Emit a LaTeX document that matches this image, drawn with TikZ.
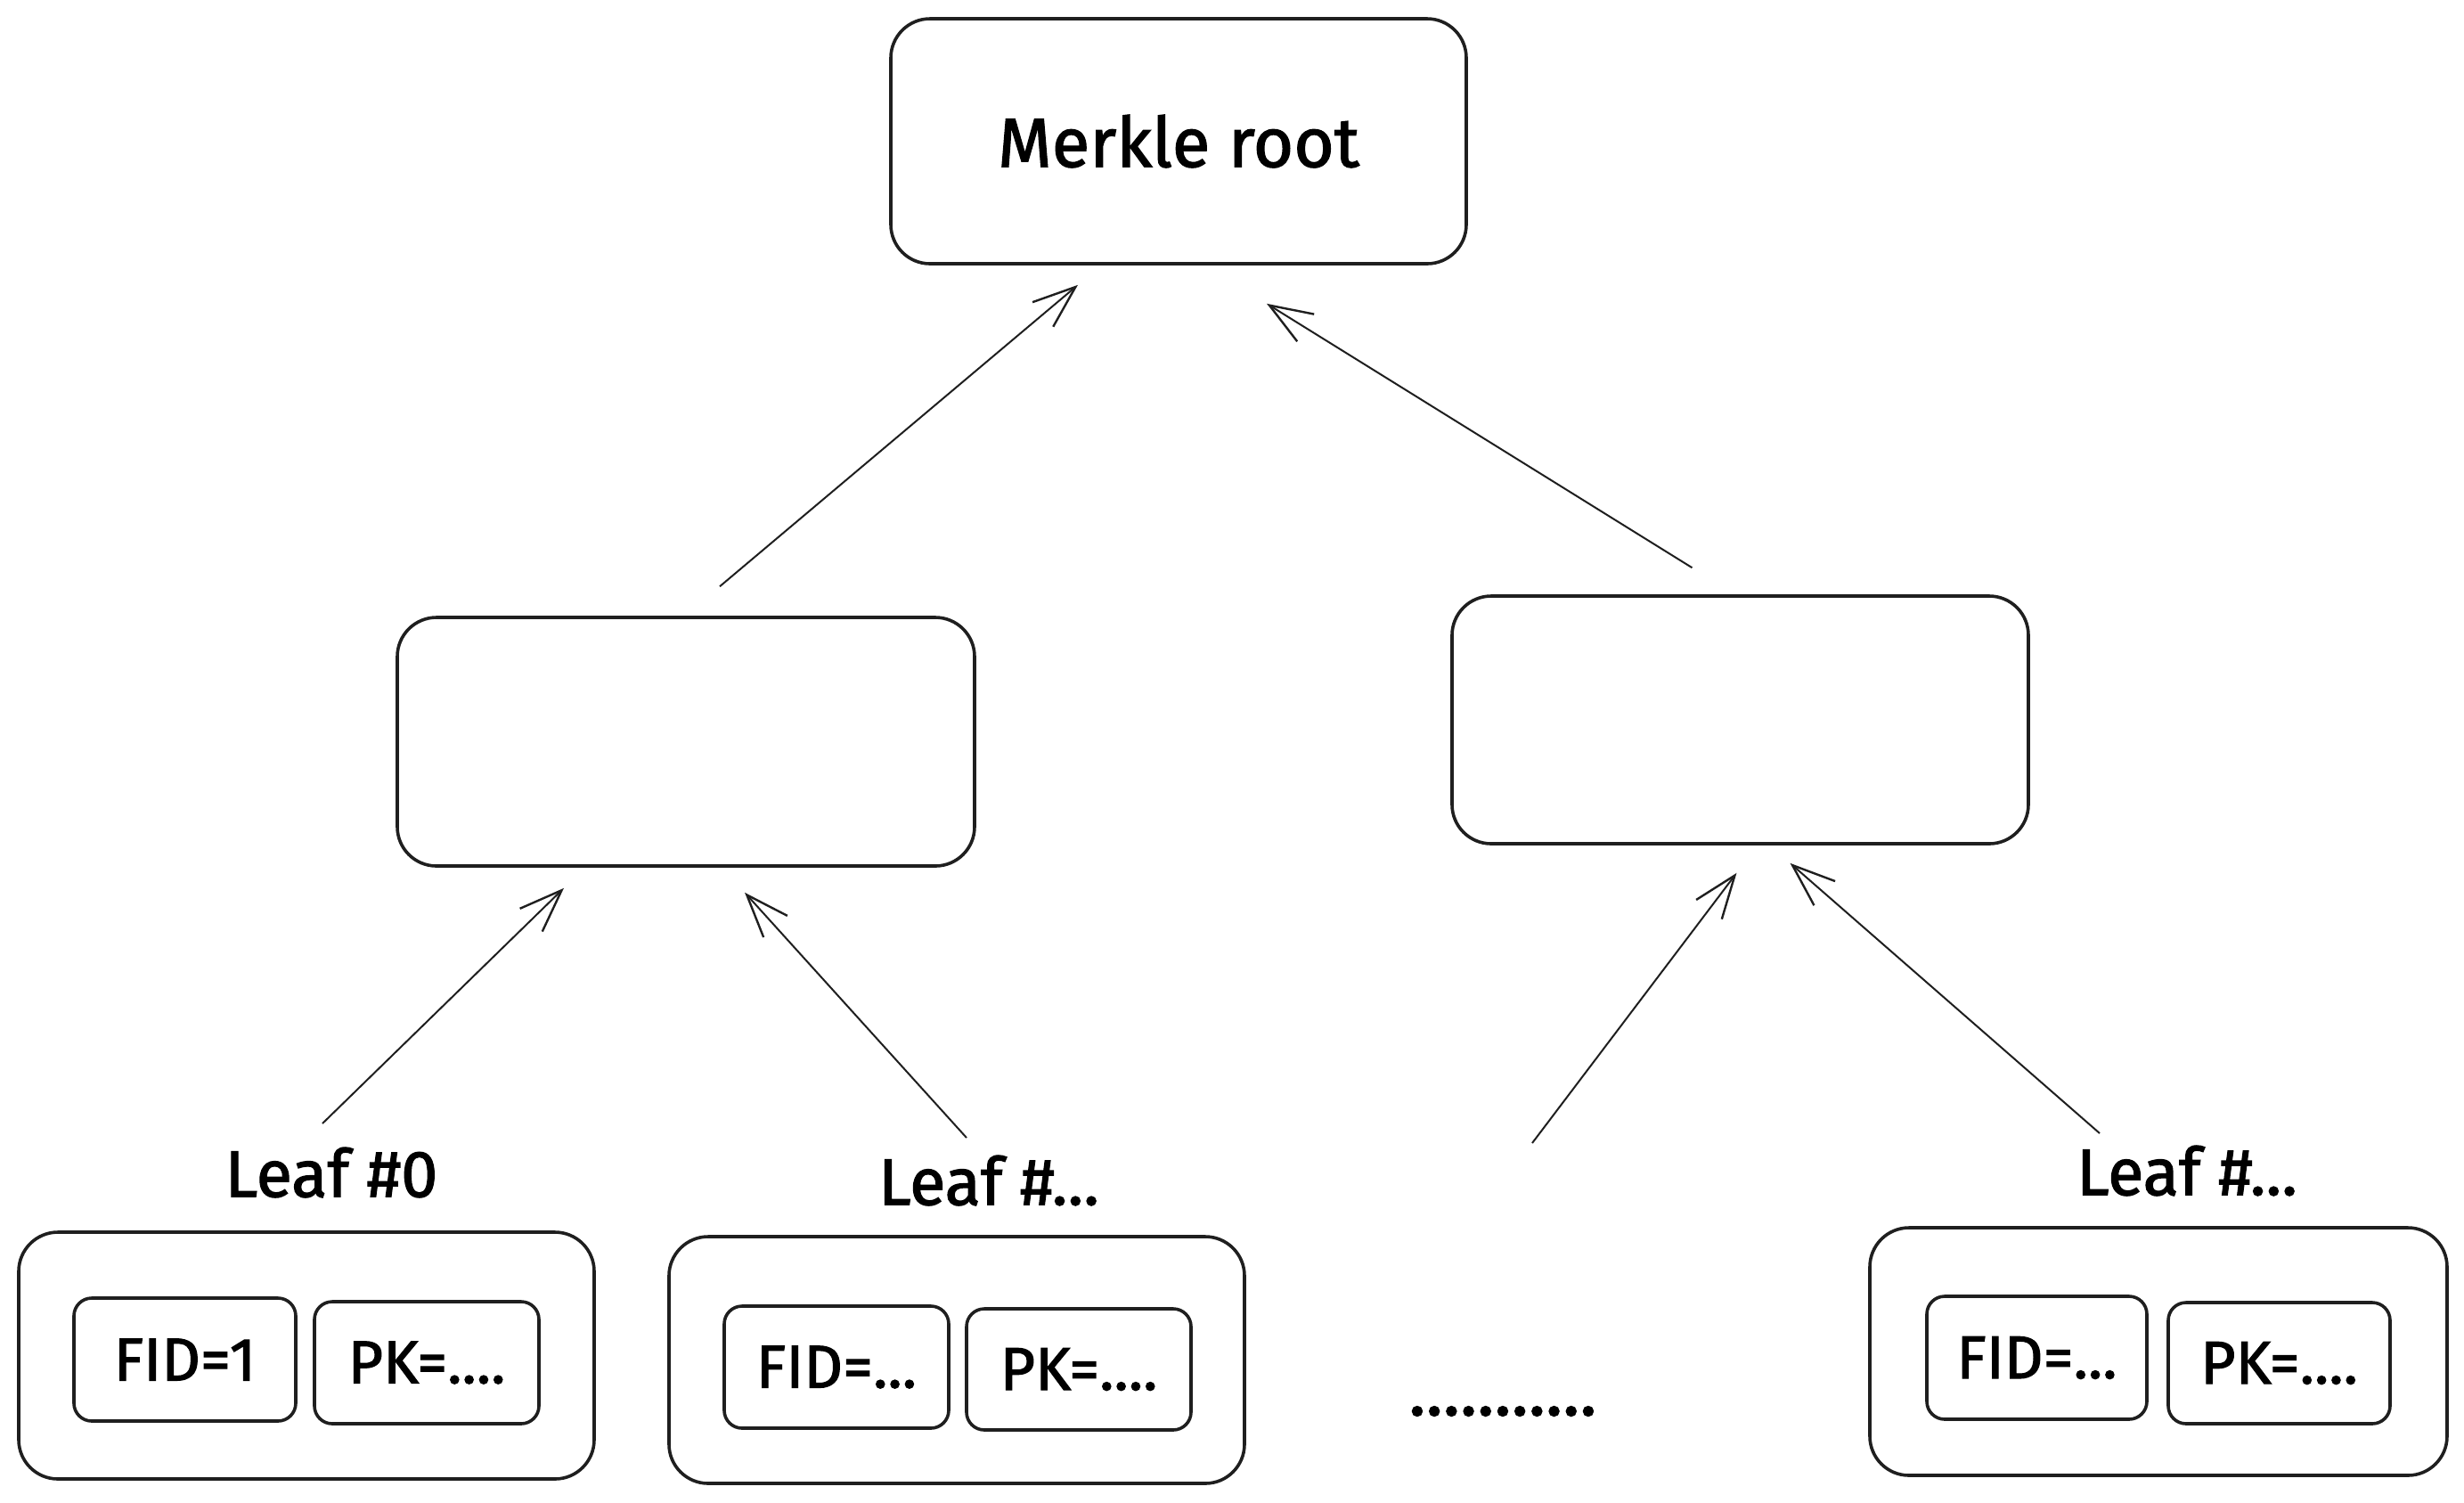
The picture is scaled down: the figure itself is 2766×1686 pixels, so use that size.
\documentclass[tikz,border=0pt]{standalone}
\usepackage{fontspec}
\setmainfont{Fira Sans}[BoldFont={Fira Sans},BoldFeatures={FakeBold=1.6}]
\usetikzlibrary{arrows.meta,calc}
\begin{document}
\begin{tikzpicture}[x=0.25pt,y=-0.25pt,
  box/.style={draw=black!88,line width=0.9pt,rounded corners=11pt,inner sep=0pt},
  inbox/.style={draw=black!88,line width=0.9pt,rounded corners=5pt,inner sep=0pt,font=\fontsize{17}{19}\selectfont\bfseries},
  lbl/.style={font=\fontsize{18.5}{21}\selectfont\bfseries,inner sep=0pt},
  arr/.style={draw=black!88,line width=0.5pt,-{Straight Barb[length=12pt,width=9pt,line width=0.6pt]}}]
\useasboundingbox (0,0) rectangle (2766,1686);
% root
\node[box,minimum width=161.5pt,minimum height=68.75pt,font=\fontsize{19.5}{22}\selectfont\bfseries] (root) at (1323,158.5) {Merkle root};
% middle boxes
\node[box,minimum width=162pt,minimum height=69.75pt] (midL) at (770,832.5) {};
\node[box,minimum width=161.75pt,minimum height=69.5pt] (midR) at (1953.5,808) {};
% leaf 0
\node[box,minimum width=161.5pt,minimum height=69.25pt] (leafA) at (344,1521.5) {};
\node[inbox,minimum width=62.25pt,minimum height=34.5pt] (fidA) at (207.5,1526) {FID=1};
\node[inbox,minimum width=63pt,minimum height=34.25pt] (pkA) at (479,1529.5) {PK=....};
\node[lbl] (lblA) at (372,1316) {Leaf \#0};
% leaf 1
\node[box,minimum width=161.5pt,minimum height=69.25pt] (leafB) at (1074,1526.5) {};
\node[inbox,minimum width=63pt,minimum height=34.25pt] (fidB) at (939,1534.5) {FID=...};
\node[inbox,minimum width=63pt,minimum height=34pt] (pkB) at (1211,1537) {PK=....};
\node[lbl] (lblB) at (1110,1325) {Leaf \#...};
% leaf last
\node[box,minimum width=162pt,minimum height=69.5pt] (leafC) at (2423,1517) {};
\node[inbox,minimum width=61.75pt,minimum height=34.5pt] (fidC) at (2286.5,1524) {FID=...};
\node[inbox,minimum width=62.25pt,minimum height=34pt] (pkC) at (2558.5,1530) {PK=....};
\node[lbl] (lblC) at (2455,1314) {Leaf \#...};
% dots
\node[lbl,font=\fontsize{20}{22}\selectfont\bfseries] (dots) at (1687,1584) {...........};
\coordinate (freeS) at (1720,1283);
% arrows
\draw[arr] ($(midL.north)+(38,-33)$) -- ($(root.south)+(-113,22)$);
\draw[arr] ($(midR.north)+(-54,-30)$) -- ($(root.south)+(99,43)$);
\draw[arr] ($(lblA)+(-10,-55)$) -- ($(midL.south)+(-137,23)$);
\draw[arr] ($(lblB)+(-25,-48)$) -- ($(midL.south)+(66,28)$);
\draw[arr] (freeS) -- ($(midR.south)+(-4,31)$);
\draw[arr] ($(lblC)+(-98,-42)$) -- ($(midR.south)+(56,20)$);
\end{tikzpicture}
\end{document}
